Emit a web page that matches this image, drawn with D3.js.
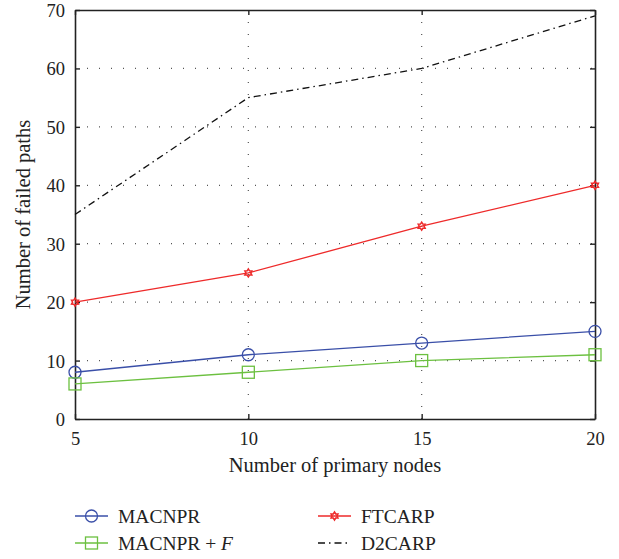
<!DOCTYPE html>
<html lang="en">
<head>
	<meta charset="UTF-8">
	<title>Failed paths</title>
	<style>
		body { margin: 0; background: #fff; }
		text { font-family: "Liberation Serif", "DejaVu Serif", serif; fill: #222; }
	</style>
</head>
<body>
	<script src="https://d3js.org/d3.v7.min.js"></script>
	<script type="text/javascript">
		// data
		var nodesCount = [5, 10, 15, 20];
		var macnpr = [8, 11, 13, 15];
		var macnprF = [6, 8, 10, 11];
		var ftcarp = [20, 25, 33, 40];
		var d2carp = [35, 55, 60, 69];
		var xTicks = [5, 10, 15, 20];
		var yTicks = [0, 10, 20, 30, 40, 50, 60, 70];

		var svg = d3.select("body").append("svg").attr("width", 619).attr("height", 559);

		var pLeft = 75, pRight = 595, pTop = 10, pBottom = 419;
		var x = d3.scaleLinear().domain([5, 20]).range([pLeft, pRight]);
		var y = d3.scaleLinear().domain([0, 70]).range([pBottom, pTop]);

		// grid
		svg.selectAll(".gy").data(yTicks.slice(1, -1)).enter().append("line")
			.attr("x1", pLeft).attr("x2", pRight)
			.attr("y1", function(d){ return y(d); }).attr("y2", function(d){ return y(d); })
			.attr("stroke", "#555").attr("stroke-width", 1.2).attr("stroke-dasharray", "1,11");
		svg.selectAll(".gx").data(xTicks.slice(1, -1)).enter().append("line")
			.attr("y1", pTop).attr("y2", pBottom)
			.attr("x1", function(d){ return x(d); }).attr("x2", function(d){ return x(d); })
			.attr("stroke", "#555").attr("stroke-width", 1.2).attr("stroke-dasharray", "1,11");

		// axes (ticks inside)
		var xAxis = svg.append("g").attr("transform", "translate(0," + pBottom + ")")
			.call(d3.axisBottom(x).tickValues(xTicks).tickSizeInner(-5).tickSizeOuter(0).tickPadding(13));
		var yAxis = svg.append("g").attr("transform", "translate(" + pLeft + ",0)")
			.call(d3.axisLeft(y).tickValues(yTicks).tickSizeInner(-5).tickSizeOuter(0).tickPadding(10));
		svg.append("g").attr("transform", "translate(" + pRight + ",0)")
			.call(d3.axisRight(y).tickValues(yTicks).tickSizeInner(-5).tickSizeOuter(0).tickFormat(""));
		svg.append("g").attr("transform", "translate(0," + pTop + ")")
			.call(d3.axisTop(x).tickValues(xTicks).tickSizeInner(-5).tickSizeOuter(0).tickFormat(""));
		svg.selectAll(".domain").attr("stroke", "#222").attr("stroke-width", 1.6);
		svg.selectAll(".tick line").attr("stroke", "#222").attr("stroke-width", 1.4);
		svg.selectAll(".tick text").style("font-size", "18.5px").attr("fill", "#222");
		yAxis.selectAll(".tick text").attr("dy", "0.35em");

		// axis titles
		svg.append("text").attr("x", (pLeft + pRight) / 2).attr("y", 472).attr("text-anchor", "middle")
			.style("font-size", "20.5px").text("Number of primary nodes");
		svg.append("text").attr("transform", "translate(30," + ((pTop + pBottom) / 2) + ") rotate(-90)")
			.attr("text-anchor", "middle").style("font-size", "20.5px").text("Number of failed paths");

		var line = d3.line().x(function(d, i){ return x(nodesCount[i]); }).y(function(d){ return y(d); });

		function star(r) {
			var pts = [];
			for (var k = 0; k < 12; k++) {
				var a = -Math.PI / 2 + k * Math.PI / 6;
				var rr = k % 2 ? r * 0.6 : r;
				pts.push([rr * Math.cos(a), rr * Math.sin(a)]);
			}
			return "M" + pts.join("L") + "Z";
		}

		var series = [
			{ name: "MACNPR", data: macnpr, color: "#3a4fa8", marker: "circle", dash: null },
			{ name: "MACNPR + F", data: macnprF, color: "#6cc040", marker: "square", dash: null },
			{ name: "FTCARP", data: ftcarp, color: "#ee2a2a", marker: "star", dash: null },
			{ name: "D2CARP", data: d2carp, color: "#111", marker: null, dash: "7,4,1.5,4" }
		];

		function drawMarker(g, s, cx, cy) {
			if (s.marker === "circle") {
				g.append("circle").attr("cx", cx).attr("cy", cy).attr("r", 6)
					.attr("fill", "none").attr("stroke", s.color).attr("stroke-width", 1.3);
			} else if (s.marker === "square") {
				g.append("rect").attr("x", cx - 6).attr("y", cy - 6).attr("width", 12).attr("height", 12)
					.attr("fill", "none").attr("stroke", s.color).attr("stroke-width", 1.3);
			} else if (s.marker === "star") {
				g.append("path").attr("d", star(4)).attr("transform", "translate(" + cx + "," + cy + ")")
					.attr("fill", "none").attr("stroke", s.color).attr("stroke-width", 1.5);
			}
		}

		series.forEach(function(s){
			svg.append("path").attr("d", line(s.data)).attr("fill", "none")
				.attr("stroke", s.color).attr("stroke-width", 1.3)
				.attr("stroke-dasharray", s.dash);
			var g = svg.append("g");
			s.data.forEach(function(v, i){ drawMarker(g, s, x(nodesCount[i]), y(v)); });
		});

		// legend
		var legPos = [[75, 516], [75, 543], [318, 516], [318, 543]];
		series.forEach(function(s, i){
			var lx = legPos[i][0], ly = legPos[i][1];
			var g = svg.append("g");
			g.append("line").attr("x1", lx).attr("x2", lx + 33).attr("y1", ly).attr("y2", ly)
				.attr("stroke", s.color).attr("stroke-width", 1.3).attr("stroke-dasharray", s.dash);
			drawMarker(g, s, lx + 16.5, ly);
			var t = g.append("text").attr("x", lx + 43).attr("y", ly + 7).style("font-size", "19.5px");
			if (s.name === "MACNPR + F") {
				t.append("tspan").text("MACNPR + ");
				t.append("tspan").style("font-style", "italic").text("F");
			} else {
				t.text(s.name);
			}
		});
	</script>
</body>
</html>
